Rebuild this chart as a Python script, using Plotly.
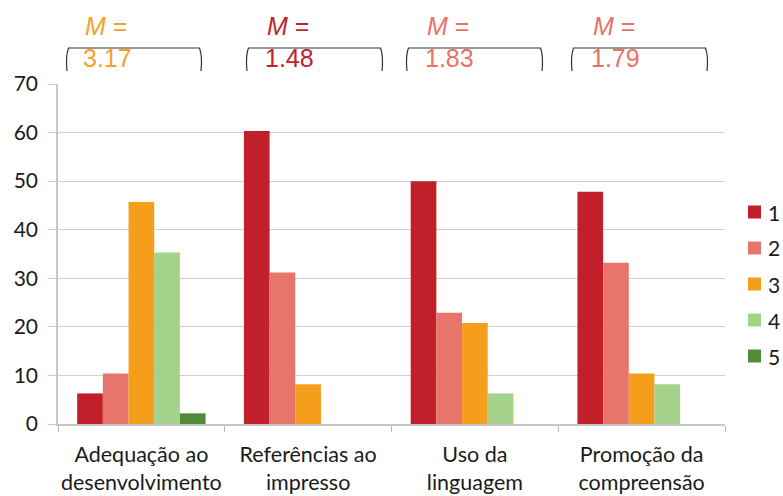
import plotly.graph_objects as go

# Categories and percentage of ratings per score (1-5)
categories = [
    "Adequação ao<br>desenvolvimento",
    "Referências ao<br>impresso",
    "Uso da<br>linguagem",
    "Promoção da<br>compreensão",
]
score_labels = ["1", "2", "3", "4", "5"]
score_1 = [6.3, 60.3, 50.0, 47.8]
score_2 = [10.4, 31.2, 22.9, 33.2]
score_3 = [45.7, 8.2, 20.8, 10.4]
score_4 = [35.3, 0, 6.3, 8.2]
score_5 = [2.2, 0, 0, 0]
means = [3.17, 1.48, 1.83, 1.79]

series = [score_1, score_2, score_3, score_4, score_5]
bar_colors = ["#C1202B", "#E8756B", "#F59E1C", "#A4D28B", "#4F8B3B"]
mean_colors = ["#F7A02B", "#C1222C", "#EA7168", "#EA7168"]

W, H = 783, 496
L, R, T, B = 58, 58, 84, 72
pw, ph = W - L - R, H - T - B


def px(x):
    return (x - L) / pw


def py(y):
    return (H - B - y) / ph


fig = go.Figure()
for i, (lab, vals) in enumerate(zip(score_labels, series)):
    fig.add_trace(go.Bar(
        x=categories, y=vals, name=lab, showlegend=False,
        marker=dict(color=bar_colors[i], line=dict(width=0)),
    ))

shapes = []
annotations = []

# Brackets and mean labels above each group
bracket_x = [(67, 201), (247, 382), (407, 542), (572, 707)]
text_x = [83, 265, 425, 591]
for (x0, x1), tx, m, c in zip(bracket_x, text_x, means, mean_colors):
    a0, a1 = px(x0), px(x1)
    yb, yt, ym = py(71), py(48), py(56)
    path = (f"M {a0},{yb} Q {px(x0 - 1.5)},{ym} {px(x0 + 1.5)},{yt} "
            f"L {px(x1 - 1.5)},{yt} Q {px(x1 + 1.5)},{ym} {a1},{yb}")
    shapes.append(dict(type="path", path=path, xref="paper", yref="paper",
                       line=dict(color="#333333", width=1.2)))
    annotations.append(dict(x=px(tx), y=py(26), xref="paper", yref="paper",
                            text="<i>M</i> =", showarrow=False, xanchor="left",
                            yanchor="middle",
                            font=dict(family="Liberation Sans, Arial", size=25, color=c)))
    annotations.append(dict(x=px(tx - 2), y=py(58), xref="paper", yref="paper",
                            text=f"{m:.2f}", showarrow=False, xanchor="left",
                            yanchor="middle",
                            font=dict(family="Liberation Sans, Arial", size=25, color=c)))

# Score key on the right
key_y = [212, 248, 284, 320, 356]
for lab, c, yy in zip(score_labels, bar_colors, key_y):
    shapes.append(dict(type="rect", xref="paper", yref="paper",
                       x0=px(748), x1=px(761), y0=py(yy + 6.5), y1=py(yy - 6.5),
                       fillcolor=c, line=dict(width=0)))
    annotations.append(dict(x=px(766), y=py(yy), xref="paper", yref="paper",
                            text=lab, showarrow=False, xanchor="left",
                            yanchor="middle",
                            font=dict(family="Lato, sans-serif", size=21,
                                      color="#1a1a1a")))

fig.update_layout(
    width=W, height=H,
    margin=dict(l=L, r=R, t=T, b=B, autoexpand=False),
    paper_bgcolor="white", plot_bgcolor="white",
    barmode="group", bargap=0.23, bargroupgap=0,
    font=dict(family="Lato, sans-serif", size=20, color="#1a1a1a"),
    shapes=shapes, annotations=annotations,
    showlegend=False,
)
fig.update_xaxes(
    showline=True, linecolor="#c8c8c8", linewidth=1.5,
    ticks="outside", ticklen=6, tickcolor="#b8b8b8", tickson="boundaries",
    showgrid=False, tickfont=dict(size=21.5), ticklabelstandoff=10,
    tickangle=0,
)
fig.update_yaxes(
    range=[0, 70], dtick=10, showline=True, linecolor="#c8c8c8", linewidth=1.5,
    ticks="outside", ticklen=8, tickcolor="#c8c8c8",
    showgrid=True, gridcolor="#d0d0d0", gridwidth=1.3, zeroline=False,
    tickfont=dict(size=21), ticklabelstandoff=6,
)

fig.write_html("out.html")
